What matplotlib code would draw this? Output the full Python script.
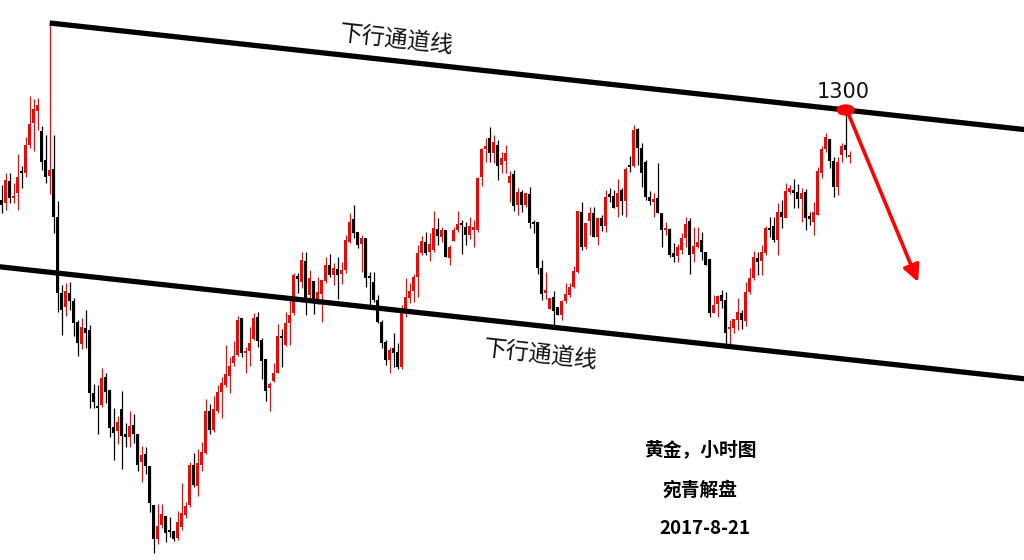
import matplotlib
matplotlib.use('Agg')
import matplotlib.pyplot as plt
from matplotlib.patches import Ellipse

plt.rcParams['font.family'] = ['Noto Sans CJK SC', 'DejaVu Sans']

# gold, 1 hour candles (price values)
opens = [1291.0, 1290.7, 1292.9, 1291.2, 1291.7, 1293.85, 1293.7, 1296.5, 1298.7, 1299.9,
         1297.9, 1295.0, 1293.4, 1294.1, 1289.3, 1281.7, 1280.3, 1281.7, 1280.9, 1278.8,
         1276.6, 1278.2, 1278.0, 1271.7, 1270.4, 1270.5, 1273.3, 1272.0, 1268.3, 1267.9,
         1270.1, 1267.6, 1267.3, 1268.5, 1267.6, 1264.8, 1265.6, 1264.4, 1260.5, 1257.1,
         1258.5, 1259.4, 1258.0, 1257.9, 1257.2, 1258.3, 1259.5, 1260.5, 1264.5, 1262.4,
         1264.5, 1265.7, 1269.9, 1268.0, 1269.9, 1271.8, 1272.5, 1273.4, 1274.7, 1275.5,
         1279.2, 1275.7, 1275.9, 1277.1, 1279.3, 1277.0, 1275.1, 1272.2, 1272.9, 1273.7,
         1277.3, 1276.5, 1278.7, 1279.7, 1283.4, 1282.8, 1284.9, 1281.5, 1282.9, 1280.8,
         1281.6, 1282.9, 1284.5, 1283.5, 1284.1, 1283.6, 1284.0, 1286.8, 1289.1, 1287.8,
         1286.6, 1287.2, 1283.3, 1282.8, 1281.0, 1278.8, 1276.8, 1275.0, 1276.2, 1275.8,
         1274.3, 1279.8, 1281.2, 1281.9, 1283.3, 1285.7, 1286.8, 1285.8, 1286.0, 1288.1,
         1287.3, 1288.0, 1285.2, 1286.9, 1288.0, 1288.7, 1288.3, 1287.5, 1288.0, 1288.0,
         1293.3, 1296.1, 1297.2, 1295.7, 1296.5, 1294.5, 1294.9, 1292.7, 1293.6, 1290.5,
         1291.8, 1290.5, 1291.6, 1288.7, 1288.8, 1284.2, 1281.7, 1280.1, 1281.3, 1280.3,
         1279.5, 1280.9, 1281.5, 1282.3, 1283.8, 1289.8, 1286.3, 1288.9, 1289.7, 1287.3,
         1289.2, 1288.4, 1291.6, 1291.4, 1290.3, 1292.0, 1290.9, 1294.5, 1294.4, 1298.1,
         1296.2, 1294.8, 1291.3, 1290.8, 1291.2, 1289.7, 1288.0, 1288.1, 1285.7, 1285.4,
         1286.0, 1287.2, 1288.9, 1285.6, 1286.3, 1287.0, 1285.8, 1285.1, 1279.7, 1280.6,
         1281.5, 1281.0, 1278.1, 1278.2, 1279.0, 1279.7, 1278.9, 1281.8, 1283.2, 1285.2,
         1284.9, 1285.7, 1288.2, 1288.4, 1287.0, 1289.8, 1289.2, 1291.8, 1292.0, 1291.8,
         1291.1, 1291.8, 1289.4, 1288.8, 1289.5, 1293.7, 1296.1, 1297.1, 1294.9, 1292.3,
         1295.5, 1296.5, 1295.3]

highs = [1292.5, 1293.7, 1293.7, 1292.7, 1295.6, 1294.4, 1297.3, 1301.4, 1301.1, 1301.2,
         1298.4, 1297.5, 1308.7, 1297.5, 1290.9, 1282.5, 1282.7, 1282.8, 1281.2, 1279.0,
         1279.2, 1280.0, 1278.5, 1272.6, 1272.5, 1274.2, 1273.7, 1272.0, 1270.2, 1269.4,
         1271.9, 1268.7, 1269.9, 1269.6, 1267.6, 1266.4, 1266.3, 1264.4, 1260.5, 1260.6,
         1260.6, 1259.4, 1259.3, 1257.9, 1259.9, 1262.7, 1260.8, 1264.8, 1265.7, 1266.1,
         1266.8, 1271.1, 1270.6, 1271.4, 1272.5, 1273.3, 1276.5, 1275.3, 1276.9, 1279.4,
         1279.2, 1276.3, 1278.3, 1279.7, 1279.8, 1277.2, 1275.1, 1272.8, 1274.7, 1278.6,
         1278.1, 1279.8, 1281.3, 1283.7, 1283.7, 1285.8, 1285.8, 1284.0, 1282.9, 1283.3,
         1283.0, 1285.3, 1285.6, 1284.7, 1285.3, 1284.8, 1287.5, 1289.7, 1290.5, 1287.8,
         1287.5, 1287.2, 1283.8, 1283.8, 1281.5, 1279.0, 1277.0, 1276.3, 1277.7, 1276.7,
         1280.5, 1283.2, 1282.7, 1283.6, 1286.5, 1287.4, 1287.8, 1287.7, 1289.9, 1289.2,
         1288.3, 1288.0, 1286.5, 1288.3, 1289.9, 1289.0, 1288.8, 1289.3, 1289.0, 1293.3,
         1296.2, 1297.2, 1298.3, 1297.5, 1297.0, 1295.8, 1296.5, 1293.9, 1294.0, 1292.2,
         1292.0, 1291.7, 1292.3, 1289.0, 1288.8, 1285.0, 1283.8, 1281.2, 1281.9, 1280.3,
         1281.0, 1282.7, 1282.7, 1284.4, 1289.9, 1290.8, 1288.7, 1290.3, 1290.3, 1289.3,
         1289.5, 1292.0, 1292.2, 1292.0, 1293.1, 1292.2, 1294.3, 1295.4, 1298.5, 1298.2,
         1296.7, 1295.0, 1291.9, 1291.7, 1294.7, 1289.7, 1288.8, 1288.2, 1286.7, 1286.6,
         1287.7, 1289.3, 1289.2, 1288.3, 1288.3, 1287.8, 1285.8, 1285.1, 1281.5, 1281.5,
         1282.0, 1281.8, 1279.0, 1279.1, 1281.2, 1280.0, 1282.8, 1284.2, 1285.9, 1285.8,
         1286.5, 1288.4, 1289.3, 1289.3, 1290.7, 1291.0, 1292.7, 1292.5, 1293.1, 1292.6,
         1292.2, 1292.1, 1289.8, 1290.8, 1294.3, 1296.4, 1297.7, 1297.1, 1295.3, 1295.3,
         1296.7, 1299.9, 1295.9]

lows = [1289.7, 1290.0, 1290.7, 1290.7, 1290.0, 1292.2, 1293.3, 1296.2, 1295.9, 1298.0,
        1294.0, 1292.7, 1291.6, 1287.7, 1279.8, 1277.5, 1279.4, 1280.0, 1277.4, 1275.4,
        1276.1, 1276.2, 1270.2, 1270.2, 1267.6, 1270.3, 1270.7, 1267.3, 1265.0, 1266.6,
        1264.1, 1266.3, 1266.3, 1266.7, 1263.9, 1262.8, 1263.6, 1259.8, 1255.7, 1256.6,
        1258.2, 1256.8, 1257.3, 1256.9, 1257.0, 1258.0, 1259.2, 1260.3, 1262.3, 1261.4,
        1263.9, 1265.6, 1267.6, 1267.8, 1269.7, 1269.2, 1272.3, 1271.7, 1274.4, 1275.4,
        1275.3, 1273.7, 1274.4, 1277.0, 1276.3, 1273.1, 1270.9, 1269.9, 1272.8, 1273.7,
        1274.3, 1276.4, 1276.5, 1279.5, 1281.7, 1282.2, 1279.5, 1281.0, 1279.6, 1280.6,
        1278.8, 1282.7, 1283.3, 1282.5, 1281.1, 1282.6, 1283.7, 1286.7, 1287.2, 1286.2,
        1283.8, 1282.3, 1280.3, 1280.8, 1278.7, 1276.2, 1274.5, 1273.7, 1274.3, 1274.1,
        1274.1, 1279.3, 1280.7, 1280.8, 1281.3, 1285.5, 1285.5, 1284.9, 1285.8, 1286.5,
        1286.8, 1285.3, 1284.5, 1286.9, 1287.8, 1285.6, 1286.5, 1287.1, 1286.3, 1287.8,
        1292.4, 1294.8, 1294.8, 1294.7, 1293.0, 1293.7, 1293.7, 1290.8, 1289.9, 1289.5,
        1289.8, 1290.3, 1288.2, 1287.7, 1283.6, 1281.0, 1281.1, 1280.1, 1278.3, 1279.5,
        1279.0, 1280.7, 1281.3, 1282.2, 1283.7, 1286.0, 1286.1, 1287.5, 1287.3, 1286.5,
        1287.9, 1287.8, 1290.8, 1290.2, 1289.3, 1289.5, 1289.3, 1293.8, 1294.3, 1294.5,
        1292.3, 1291.0, 1290.5, 1289.3, 1289.7, 1286.3, 1287.5, 1285.3, 1284.8, 1284.8,
        1285.6, 1286.3, 1283.6, 1284.8, 1286.2, 1285.0, 1284.5, 1279.3, 1279.7, 1279.3,
        1280.2, 1276.5, 1276.3, 1277.7, 1278.0, 1278.1, 1278.4, 1281.6, 1283.0, 1283.5,
        1283.5, 1285.5, 1287.3, 1286.8, 1285.5, 1288.2, 1289.2, 1291.6, 1290.2, 1290.2,
        1288.8, 1288.0, 1288.5, 1287.5, 1289.5, 1293.2, 1295.8, 1294.2, 1291.3, 1291.5,
        1294.8, 1295.3, 1294.7]

closes = [1290.5, 1293.0, 1291.2, 1291.3, 1293.3, 1293.75, 1296.5, 1298.6, 1300.1, 1300.5,
          1294.8, 1293.3, 1294.0, 1289.3, 1281.7, 1280.0, 1281.9, 1280.9, 1278.7, 1276.7,
          1278.3, 1277.7, 1271.7, 1270.8, 1270.2, 1273.2, 1271.8, 1268.2, 1267.7, 1268.8,
          1267.4, 1267.3, 1268.4, 1267.6, 1264.5, 1265.5, 1264.4, 1260.7, 1257.1, 1258.4,
          1259.6, 1257.7, 1257.8, 1257.1, 1258.8, 1259.7, 1260.4, 1264.5, 1262.5, 1264.7,
          1265.8, 1269.9, 1268.0, 1270.1, 1271.8, 1272.7, 1273.6, 1274.4, 1275.4, 1279.0,
          1275.7, 1275.9, 1276.7, 1279.2, 1276.9, 1274.9, 1271.9, 1272.6, 1273.7, 1277.4,
          1277.2, 1278.7, 1279.5, 1283.5, 1283.1, 1285.0, 1281.0, 1283.2, 1281.0, 1281.8,
          1283.0, 1284.5, 1283.5, 1284.2, 1283.5, 1284.0, 1287.0, 1288.8, 1287.7, 1286.5,
          1287.2, 1283.2, 1283.2, 1281.0, 1278.8, 1276.7, 1275.0, 1276.0, 1275.7, 1274.3,
          1280.1, 1281.3, 1281.9, 1283.3, 1285.7, 1286.9, 1285.7, 1286.6, 1288.2, 1287.4,
          1288.0, 1285.3, 1286.3, 1288.0, 1288.6, 1288.5, 1287.5, 1288.4, 1288.3, 1293.2,
          1296.1, 1296.4, 1295.7, 1296.8, 1294.4, 1295.2, 1295.7, 1293.4, 1290.4, 1291.8,
          1290.5, 1291.7, 1288.7, 1288.6, 1284.2, 1281.6, 1282.0, 1281.2, 1279.9, 1279.5,
          1280.9, 1281.6, 1282.3, 1283.9, 1289.9, 1286.3, 1288.7, 1289.7, 1287.3, 1289.2,
          1288.4, 1291.3, 1291.3, 1290.2, 1291.7, 1290.9, 1294.1, 1294.3, 1298.0, 1296.2,
          1293.7, 1291.3, 1290.9, 1291.1, 1289.7, 1288.0, 1288.2, 1285.5, 1285.3, 1286.3,
          1287.2, 1288.6, 1285.5, 1286.4, 1286.8, 1285.8, 1284.5, 1279.7, 1280.5, 1281.4,
          1280.9, 1277.7, 1278.3, 1279.1, 1279.8, 1279.0, 1281.8, 1283.2, 1285.3, 1284.8,
          1285.8, 1288.2, 1288.0, 1287.0, 1289.8, 1289.3, 1291.9, 1292.2, 1291.7, 1291.1,
          1291.7, 1289.2, 1289.1, 1289.8, 1293.9, 1296.1, 1297.3, 1294.9, 1292.3, 1294.8,
          1296.4, 1296.0, 1295.5]

# channel: upper line through the spike high and the 1300 touch, lower line parallel
channel_top = [(12, 1308.7), (211, 1300.0)]
channel_low_start = 1284.3
peak = (211, 1300.0)
target = (229.1, 1282.8)


def main():
    fig = plt.figure(figsize=(10.24, 5.6), dpi=100)
    ax = fig.add_axes([0, 0, 1, 1])

    n = len(opens)
    xs = list(range(n))

    # candles
    for i in xs:
        o, h, l, c = opens[i], highs[i], lows[i], closes[i]
        col = '#ff0000' if c >= o else '#000000'
        ax.vlines(i, l, h, color=col, lw=0.9, zorder=2)
        body = max(abs(c - o), 0.15)
        ax.bar(i, body, bottom=min(o, c), width=0.78, color=col, linewidth=0, zorder=3)

    # channel lines
    x_end = 255.6
    (x1, y1), (x2, y2) = channel_top
    slope = (y2 - y1) / (x2 - x1)
    ax.plot([x1, x_end], [y1, y1 + slope * (x_end - x1)], color='black', lw=3.8,
            solid_capstyle='butt', zorder=4)
    x0 = -0.5
    ax.plot([x0, x_end], [channel_low_start + slope * x0, channel_low_start + slope * x_end],
            color='black', lw=3.8, solid_capstyle='butt', zorder=4)

    ax.text(98.8, 1307.0, '下行通道线', fontsize=16.5, rotation=-6.4, rotation_mode='anchor',
            ha='center', va='center', color='#111111')
    ax.text(134.8, 1275.5, '下行通道线', fontsize=16.5, rotation=-6.4, rotation_mode='anchor',
            ha='center', va='center', color='#111111')

    # 1300 touch point and arrow
    ax.add_patch(Ellipse(peak, width=4.2, height=1.0, color='#ff0000', zorder=6))
    ax.text(peak[0] - 0.7, 1301.8, '1300', fontsize=15, ha='center', va='center',
            family='DejaVu Sans', color='#111111')
    ax.annotate('', xy=target, xytext=(peak[0] + 0.8, peak[1] - 0.5),
                arrowprops=dict(arrowstyle='-|>', color='#ff0000', lw=2.6,
                                mutation_scale=25, shrinkA=0, shrinkB=0), zorder=6)

    fig.text(700 / 1024, 1 - 450 / 560, '黄金，小时图', fontsize=13.5, fontweight='bold',
             ha='center', va='center')
    fig.text(700 / 1024, 1 - 490 / 560, '宛青解盘', fontsize=13.5, fontweight='bold',
             ha='center', va='center')
    fig.text(705 / 1024, 1 - 528 / 560, '2017-8-21', fontsize=13.5, fontweight='bold',
             ha='center', va='center')

    ax.set_xlim(-0.425, 255.575)
    ax.set_ylim(1255, 1311)
    ax.axis('off')

    fig.savefig('out.png', dpi=100, facecolor='white')


if __name__ == '__main__':
    main()
